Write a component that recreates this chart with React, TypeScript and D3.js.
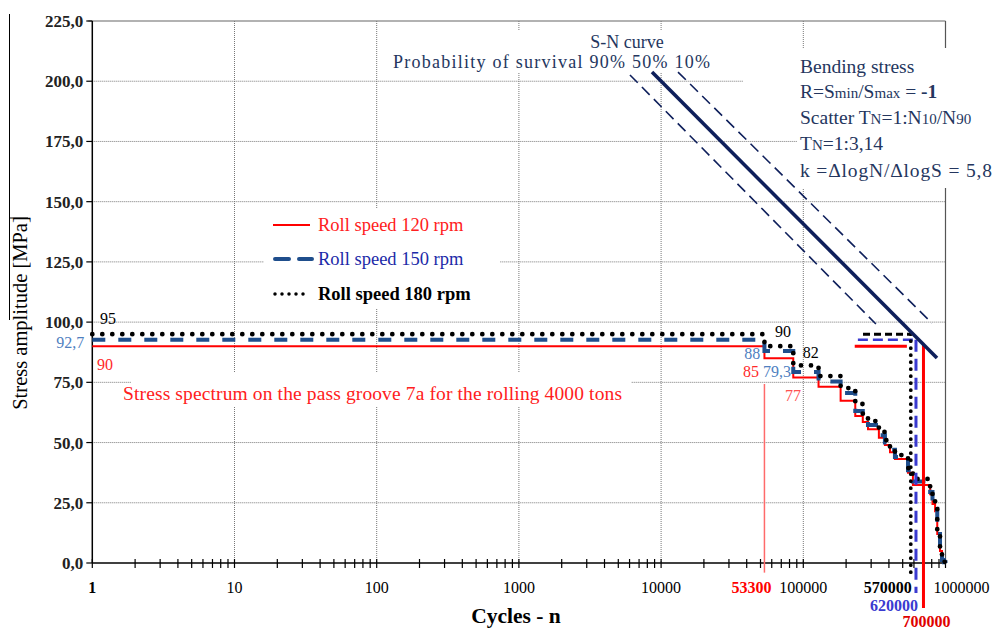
import React from 'react';
import * as d3 from 'd3';

// ---------- data ----------
const yTickValues = [0, 25, 50, 75, 100, 125, 150, 175, 200, 225];
const xDecades = [1, 10, 100, 1000, 10000, 100000, 1000000];
const xDecadeLabels = ['1', '10', '100', '1000', '10000', '100000', '1000000'];

// cumulative cycles at the end of each spectrum step (shared by the three spectra)
const stepEndN = [53300, 85000, 128000, 183000, 232000, 262000, 285000, 340000, 375000, 407000, 441000,
  545000, 590000, 780000, 810000, 845000, 875000, 915000, 945000, 975000, 1000000];
// stress amplitude of each step [MPa]
const speed180 = [95, 90, 82, 77.6, 72.6, 66, 62, 58.9, 54.4, 51, 48, 44.8, 39.4, 34.9, 30.3, 26.2, 23.7, 13.7, 6.2, 1.5, 0.5];
const speed150 = [92.7, 88, 79.3, 75.3, 70.6, 63.1, 60, 57.3, 53, 50, 47, 44, 38.5, 33.8, 29.5, 25.5, 22.5, 13, 5.5, 1.2, 0.3];
const speed120 = [90, 85, 77, 73.2, 67.4, 61, 58.5, 55.5, 52, 49, 46, 43.2, 37.5, 32.4, 28.5, 24.5, 21.5, 12, 5, 1, 0.2];

// S-N curves [N, S]
const snMedian: [number, number][] = [[8630, 203.8], [871000, 85.1]];
const sn90: [number, number][] = [[6040, 202.6], [324000, 99.2]];
const sn10: [number, number][] = [[13150, 203.8], [803000, 99.6]];

// equivalent (damage) markers: 180, 150, 120 rpm
const eqStartN = [263000, 242000, 230000];
const eqEndN = [570000, 620000, 535000];
const eqLevel = [95, 92.7, 90];
const eqVertN = [570000, 620000, 700000];
const eqVertTop = [95, 92.7, 90.5];
const eqVertBottom = [-5, -12.5, -18.7];

const spectrumMarkN = 53300;
const spectrumMarkRange = [74.3, -4];

// annotation texts [text, N, S, colour]
const annotations: [string, number, number, string][] = [
  ['95', 1.29, 101.7, '#000'],
  ['92,7', 0.7, 91.7, '#4f7fbf'],
  ['90', 1.23, 82.6, '#ff2a2a'],
  ['90', 72000, 95.9, '#000'],
  ['88', 43700, 86.8, '#4f7fbf'],
  ['85', 42800, 79.7, '#ff2a2a'],
  ['79,3', 65300, 79.7, '#4f7fbf'],
  ['82', 113000, 87.2, '#000'],
  ['77', 84500, 69.7, '#ff5050'],
];

const legendLabels = ['Roll speed 120 rpm', 'Roll speed 150 rpm', 'Roll speed 180 rpm'];

// ---------- chart ----------
const W = 995, H = 630;
const x = d3.scaleLog().domain([1, 1e6]).range([92.3, 945.5]);
const y = d3.scaleLinear().domain([0, 225]).range([563, 21]);

const FONT = '"Liberation Serif", "Times New Roman", serif';
const NAVY = '#0e1f5b';
const TXT = '#24365e';
const RED = '#ff0000';
const BLUE = '#1f4e8c';
const BRIGHTBLUE = '#3a3ad0';

function stepPath(levels: number[]) {
  const pts: [number, number][] = [[1, levels[0]]];
  for (let i = 0; i < stepEndN.length - 1; i++) pts.push([stepEndN[i], levels[i + 1]]);
  pts.push([stepEndN[stepEndN.length - 1], 0]);
  return d3.line<[number, number]>().x(d => x(d[0])).y(d => y(d[1])).curve(d3.curveStepAfter)(pts) || '';
}
const linePath = (pts: [number, number][]) =>
  d3.line<[number, number]>().x(d => x(d[0])).y(d => y(d[1]))(pts) || '';

const minorTicks: number[] = [];
for (let e = 0; e < 6; e++) for (let m = 1; m <= 9; m++) minorTicks.push(m * Math.pow(10, e));
minorTicks.push(1e6);

const fmt = (v: number) => d3.format('.1f')(v).replace('.', ',');

export default function App() {
  const x0 = x(1), x1 = x(1e6), yb = y(0), yt = y(225);
  return (
    <div style={{ position: 'absolute', left: 0, top: 0 }}>
      <svg width={W} height={H} style={{ display: 'block', background: '#fff' }} fontFamily={FONT}>
        <rect x={0} y={0} width={W} height={H} fill="#fff" />
        {/* grid */}
        {yTickValues.filter(v => v > 0 && v < 225).map(v => (
          <line key={'gy' + v} x1={x0} x2={x1} y1={y(v)} y2={y(v)} stroke="#777" strokeWidth={1} strokeDasharray="1 1" />
        ))}
        <line x1={x0 - 4} x2={x1} y1={yt} y2={yt} stroke="#666" strokeWidth={1.2} />
        {xDecades.slice(1, 6).map(v => (
          <line key={'gx' + v} x1={x(v)} x2={x(v)} y1={yt} y2={yb} stroke="#777" strokeWidth={1} strokeDasharray="1 1" />
        ))}
        <line x1={x1} x2={x1} y1={yt} y2={yb} stroke="#555" strokeWidth={1.2} />

        {/* white text boxes covering grid */}
        <rect x={385} y={31} width={335} height={42} fill="#fff" />
        <rect x={797} y={48} width={198} height={140} fill="#fff" />
        <rect x={743} y={74} width={60} height={16} fill="#fff" />
        <rect x={264} y={208} width={236} height={100} fill="#fff" />
        <rect x={131} y={373} width={500} height={33} fill="#fff" />

        {/* axes */}
        <line x1={x0} x2={x0} y1={yt} y2={yb} stroke="#000" strokeWidth={1.5} />
        <line x1={x0} x2={x1} y1={yb} y2={yb} stroke="#000" strokeWidth={1.5} />
        {yTickValues.map(v => (
          <g key={'yt' + v}>
            <line x1={x0 - 6} x2={x0} y1={y(v)} y2={y(v)} stroke="#000" strokeWidth={1.2} />
            <text x={x0 - 9} y={y(v) + 6} fontSize={17} fontWeight="bold" textAnchor="end" fill="#222">{fmt(v)}</text>
          </g>
        ))}
        {minorTicks.map((v, i) => (
          <line key={'xt' + i} x1={x(v)} x2={x(v)} y1={yb - 4} y2={yb + 5} stroke="#000" strokeWidth={1.2} />
        ))}
        {xDecadeLabels.map((t, i) => (
          <text key={'xl' + t} x={x(xDecades[i]) + (i === 6 ? 16 : 0)} y={593} fontSize={16} fontWeight={i === 0 ? 'bold' : 'normal'} textAnchor="middle" fill="#000">{t}</text>
        ))}
        <text x={x(spectrumMarkN) - 13} y={593} fontSize={16} fontWeight="bold" textAnchor="middle" fill={RED}>53300</text>
        <text x={x(eqVertN[0]) + 1} y={593} fontSize={16} fontWeight="bold" textAnchor="end" fill="#000">570000</text>
        <text x={x(eqVertN[1]) - 22} y={611} fontSize={16} fontWeight="bold" textAnchor="middle" fill={BRIGHTBLUE}>620000</text>
        <text x={x(eqVertN[2]) + 3} y={627} fontSize={16} fontWeight="bold" textAnchor="middle" fill="#e00000">700000</text>

        {/* axis titles */}
        <text x={516} y={623} fontSize={21.5} fontWeight="bold" textAnchor="middle" fill="#000">Cycles - n</text>
        <text transform="translate(27,313) rotate(-90)" fontSize={20.5} textAnchor="middle" fill="#000">Stress amplitude [MPa]</text>
        <line x1={9.5} x2={9.5} y1={14} y2={320} stroke="#000" strokeWidth={1} />
        <line x1={9.5} x2={28} y1={218} y2={218} stroke="#000" strokeWidth={1} />

        {/* spectrum start marker */}
        <line x1={x(spectrumMarkN)} x2={x(spectrumMarkN)} y1={y(spectrumMarkRange[0])} y2={y(spectrumMarkRange[1])} stroke="#ff6a6a" strokeWidth={1.5} />

        {/* spectra */}
        <path d={stepPath(speed120)} fill="none" stroke={RED} strokeWidth={2} />
        <path d={stepPath(speed150)} fill="none" stroke={BLUE} strokeWidth={4} strokeDasharray="13 13" />
        <path d={stepPath(speed180)} fill="none" stroke="#000" strokeWidth={4.8} strokeDasharray="0 10" strokeLinecap="round" />

        {/* equivalent markers */}
        <line x1={x(eqStartN[2])} x2={x(eqEndN[2])} y1={y(eqLevel[2])} y2={y(eqLevel[2])} stroke={RED} strokeWidth={3} />
        <line x1={x(eqStartN[1])} x2={x(eqEndN[1])} y1={y(eqLevel[1])} y2={y(eqLevel[1])} stroke={BRIGHTBLUE} strokeWidth={2.5} strokeDasharray="10 5" />
        <line x1={x(eqStartN[0])} x2={x(eqEndN[0])} y1={y(eqLevel[0])} y2={y(eqLevel[0])} stroke="#000" strokeWidth={3} strokeDasharray="7 4" />
        <line x1={x(eqVertN[2])} x2={x(eqVertN[2])} y1={y(eqVertTop[2])} y2={y(eqVertBottom[2])} stroke={RED} strokeWidth={3} />
        <line x1={x(eqVertN[1])} x2={x(eqVertN[1])} y1={y(eqVertTop[1])} y2={y(eqVertBottom[1])} stroke={BRIGHTBLUE} strokeWidth={3} strokeDasharray="12 7" />
        <line x1={x(eqVertN[0])} x2={x(eqVertN[0])} y1={y(eqVertTop[0])} y2={y(eqVertBottom[0])} stroke="#000" strokeWidth={3.8} strokeDasharray="0 7" strokeLinecap="round" />

        {/* S-N curves */}
        <path d={linePath(sn90)} fill="none" stroke={NAVY} strokeWidth={1.6} strokeDasharray="11 6" />
        <path d={linePath(sn10)} fill="none" stroke={NAVY} strokeWidth={1.6} strokeDasharray="11 6" />
        <path d={linePath(snMedian)} fill="none" stroke={NAVY} strokeWidth={3.6} />

        {/* annotations */}
        {annotations.map(([t, n, s, c], i) => (
          <text key={'an' + i} x={x(n)} y={y(s) + 5.5} fontSize={16} textAnchor="middle" fill={c}>{t}</text>
        ))}
        <text x={123} y={400} fontSize={19.5} textLength={499} lengthAdjust="spacing" fill="#ff2020">Stress spectrum on the pass groove 7a for the rolling 4000 tons</text>

        {/* legend */}
        <line x1={273} x2={310} y1={225} y2={225} stroke={RED} strokeWidth={2} />
        <line x1={275} x2={312} y1={259} y2={259} stroke={BLUE} strokeWidth={4} strokeDasharray="14 10" strokeLinecap="round" />
        <line x1={275} x2={310} y1={294} y2={294} stroke="#000" strokeWidth={3.5} strokeDasharray="0 7" strokeLinecap="round" />
        <text x={318} y={231} fontSize={18.5} fill="#ff2020">{legendLabels[0]}</text>
        <text x={318} y={265} fontSize={18.5} fill="#1c2aa8">{legendLabels[1]}</text>
        <text x={318} y={300} fontSize={18.5} fontWeight="bold" fill="#000">{legendLabels[2]}</text>

        {/* S-N title */}
        <text x={627} y={48} fontSize={18} textAnchor="middle" fill={TXT}>S-N curve</text>
        <text x={393} y={68} fontSize={18} textLength={317} lengthAdjust="spacing" fill={TXT}>Probability of survival 90% 50% 10%</text>

        {/* parameter block */}
        <g fontSize={19.5} fill={TXT}>
          <text x={800} y={73}>Bending stress</text>
          <text x={800} y={98}>R=S<tspan fontSize={15}>min</tspan>/S<tspan fontSize={15}>max</tspan> = <tspan fontWeight="bold">-1</tspan></text>
          <text x={800} y={124}>Scatter T<tspan fontSize={15}>N</tspan>=1:N<tspan fontSize={15}>10</tspan>/N<tspan fontSize={15}>90</tspan></text>
          <text x={800} y={150}>T<tspan fontSize={15}>N</tspan>=1:3,14</text>
          <text x={800} y={177} textLength={192} lengthAdjust="spacing">k =ΔlogN/ΔlogS = 5,8</text>
        </g>
      </svg>
    </div>
  );
}
